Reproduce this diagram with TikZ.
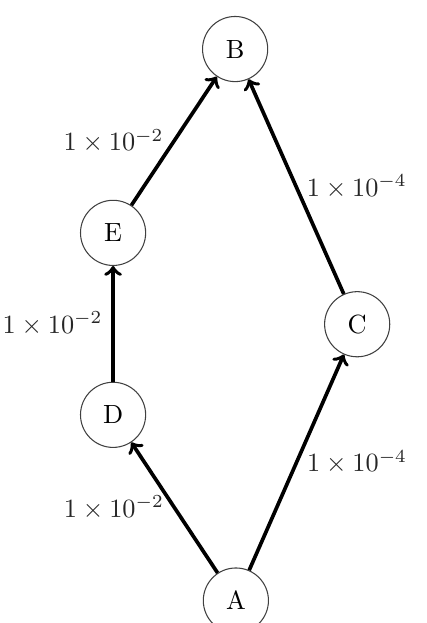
\documentclass[tikz,border=0pt]{standalone}
\usepackage{amsmath, amssymb}
\usepackage{xcolor}
\usepackage{tikz}
\usetikzlibrary{arrows.meta, positioning, calc}

\begin{document}
\begin{tikzpicture}[
  state/.style={circle, draw=black!75, fill=white,
                minimum size=0.87cm, inner sep=0pt, font=\normalsize},
  rate/.style={font=\normalsize, black!85},
  >=to
]
  \useasboundingbox (0,0) rectangle (5.69,-8.32);

  % ── Nodes ──────────────────────────────────────────────────────────────────
  \node[state] (B) at (3.14, -0.655) {B};
  \node[state] (E) at (1.51, -3.11)  {E};
  \node[state] (C) at (4.77, -4.33)  {C};
  \node[state] (D) at (1.51, -5.54)  {D};
  \node[state] (A) at (3.15, -8.02)  {A};

  % ── Left path: A → D → E → B ───────────────────────────────────────────────
  \draw[->, line width=1.4pt] (A) -- node[rate, left, pos=0.5]
    {$1\times10^{-2}$} (D);
  \draw[->, line width=1.4pt] (D) -- node[rate, left, pos=0.5]
    {$1\times10^{-2}$} (E);
  \draw[->, line width=1.4pt] (E) -- node[rate, left, pos=0.5]
    {$1\times10^{-2}$} (B);

  % ── Right path: A → C → B ──────────────────────────────────────────────────
  \draw[->, line width=1.4pt] (A) -- node[rate, right, pos=0.5]
    {$1\times10^{-4}$} (C);
  \draw[->, line width=1.4pt] (C) -- node[rate, right, pos=0.5]
    {$1\times10^{-4}$} (B);
\end{tikzpicture}
\end{document}
